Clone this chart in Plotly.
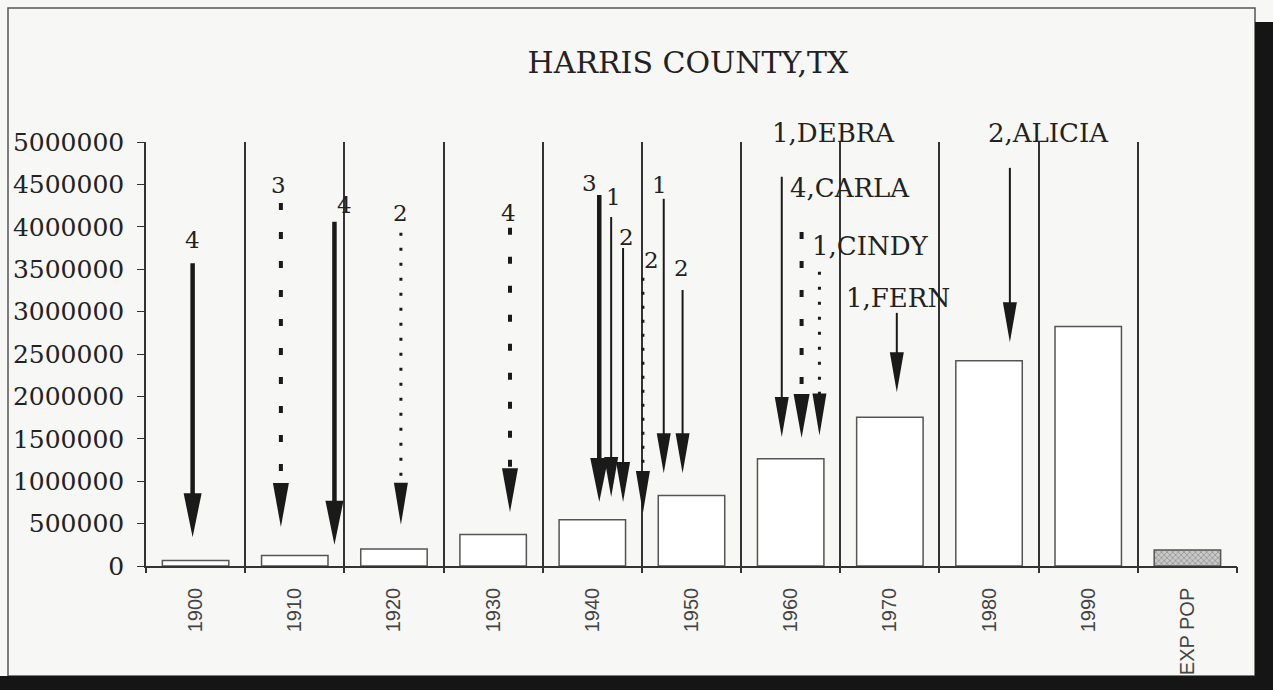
import plotly.graph_objects as go

# population bars
years = ["1900", "1910", "1920", "1930", "1940", "1950", "1960", "1970", "1980", "1990", "EXP POP"]
population = [65000, 125000, 200000, 370000, 545000, 830000, 1265000, 1755000, 2420000, 2825000, 190000]

# hurricane arrows: label, x position (category units), start value, tip value, line kind
storm_labels = ["4", "3", "4", "2", "4", "3", "1", "2", "2", "1", "2",
                "1,DEBRA", "4,CARLA", "1,CINDY", "1,FERN", "2,ALICIA"]
storm_x = [-0.03, 0.86, 1.40, 2.07, 3.17, 4.07, 4.19, 4.31, 4.51, 4.72, 4.91,
           5.91, 6.11, 6.29, 7.07, 8.21]
storm_from = [3570000, 4280000, 4060000, 3930000, 3990000, 4375000, 4115000, 3750000, 3400000,
              4330000, 3255000, 4590000, 3940000, 3470000, 2985000, 4695000]
storm_to = [340000, 460000, 250000, 485000, 635000, 755000, 815000, 755000, 625000,
            1095000, 1095000, 1520000, 1510000, 1540000, 2050000, 2640000]
storm_kind = ["thick", "dash", "thick", "dot", "dash", "thick", "solid", "solid", "fine",
              "solid", "solid", "solid", "dash", "dot", "solid", "solid"]

y_ticks = list(range(0, 5000001, 500000))

# label placement (pixels relative to arrow start)
label_dx = [0, -2, 10, 0, -2, -10, 2, 3, 9, -4, -1, -12, -14, -9, -53, -24]
label_dy = [23, 18, 17, 20, 15, 12, 20, 11, 18, 14, 22, 44, 44, 26, 15, 35]
label_anchor = ["center"] * 11 + ["left"] * 5

styles = {
    "thick": dict(width=4.5, dash="solid", hw=9, hl=44),
    "solid": dict(width=2, dash="solid", hw=7, hl=40),
    "dash": dict(width=4, dash="7px,22px", hw=8, hl=44),
    "dot": dict(width=3, dash="3px,12px", hw=7, hl=42),
    "fine": dict(width=3, dash="3px,11px", hw=7, hl=42),
}

L, R, T, B = 146, 36, 142, 124
W, H = 1273, 690
pw, ph = W - L - R, H - T - B
xpx = 11 / pw
ypx = 5000000 / ph
ink = "#1a1a1a"

fig = go.Figure()

fig.add_trace(go.Bar(
    x=list(range(len(years))), y=population, width=0.67,
    marker=dict(color=["white"] * 10 + ["#c8c8c8"],
                line=dict(color="#555555", width=1.5),
                pattern=dict(shape=[""] * 10 + ["x"], fgcolor="#777777", size=4, solidity=0.3)),
    hoverinfo="skip", showlegend=False,
))

for i in range(len(storm_labels)):
    s = styles[storm_kind[i]]
    x, top, tip = storm_x[i], storm_from[i], storm_to[i]
    hl = s["hl"] * ypx
    hw = s["hw"] * xpx
    fig.add_trace(go.Scatter(
        x=[x, x], y=[top, tip + hl * 0.6], mode="lines",
        line=dict(color=ink, width=s["width"], dash=s["dash"]),
        hoverinfo="skip", showlegend=False,
    ))
    fig.add_trace(go.Scatter(
        x=[x - hw, x + hw, x, x - hw], y=[tip + hl, tip + hl, tip, tip + hl],
        mode="lines", fill="toself", fillcolor=ink, line=dict(width=0, color=ink),
        hoverinfo="skip", showlegend=False,
    ))
    fig.add_annotation(
        x=x, y=top, text=storm_labels[i], showarrow=False,
        xanchor=label_anchor[i], yanchor="middle",
        xshift=label_dx[i], yshift=label_dy[i],
        font=dict(family="DejaVu Serif", size=23 if label_anchor[i] == "center" else 26, color="#222"),
    )


def fx(p):
    return (p - L) / pw


def fy(p):
    return (H - B - p) / ph


# scanned page frame and shadow
fig.add_shape(type="rect", xref="paper", yref="paper", x0=fx(8), x1=fx(1255), y0=fy(676), y1=fy(8),
              line=dict(color="#555555", width=1.5), fillcolor="rgba(0,0,0,0)", layer="below")
fig.add_shape(type="rect", xref="paper", yref="paper", x0=fx(1255), x1=fx(1273), y0=fy(690), y1=fy(22),
              line=dict(width=0), fillcolor="#151515")
fig.add_shape(type="rect", xref="paper", yref="paper", x0=fx(0), x1=fx(1273), y0=fy(690), y1=fy(676),
              line=dict(width=0), fillcolor="#151515")

fig.update_layout(
    width=W, height=H,
    margin=dict(l=L, r=R, t=T, b=B),
    paper_bgcolor="#f7f7f5", plot_bgcolor="#f7f7f5",
    title=dict(text="HARRIS COUNTY,TX", x=fx(688), xref="paper", xanchor="center",
               y=1 - 62 / H, yref="container", yanchor="middle",
               font=dict(family="DejaVu Serif", size=30, color="#222")),
    xaxis=dict(range=[-0.5, 10.5], tickvals=list(range(len(years))), ticktext=years,
               tickangle=-90, showgrid=False, zeroline=False, automargin=False,
               showline=True, linecolor="#333", linewidth=1.5,
               ticks="outside", ticklen=12, tickcolor="rgba(0,0,0,0)",
               tickfont=dict(family="Liberation Sans Narrow, Liberation Sans", size=20, color="#444")),
    xaxis2=dict(range=[-0.5, 10.5], overlaying="x", side="bottom",
                tickvals=[i + 0.5 for i in range(-1, len(years))],
                showgrid=True, gridcolor="#333", gridwidth=1.5,
                ticks="outside", ticklen=6, tickcolor="#333", tickwidth=1.5,
                showticklabels=False, zeroline=False),
    yaxis=dict(range=[0, 5000000], tickvals=y_ticks, tickformat="d", automargin=False,
               showgrid=False, zeroline=False, showline=True, linecolor="#333", linewidth=1.5,
               ticks="outside", ticklen=7, tickcolor="#333", ticklabelstandoff=8,
               tickfont=dict(family="DejaVu Serif", size=25, color="#222")),
)

# dummy trace so xaxis2 (separators) is drawn
fig.add_trace(go.Scatter(x=[None], y=[None], xaxis="x2", showlegend=False, hoverinfo="skip"))

fig.write_html("out.html", config={"displayModeBar": False},
               post_script="document.body.style.margin='0';")
